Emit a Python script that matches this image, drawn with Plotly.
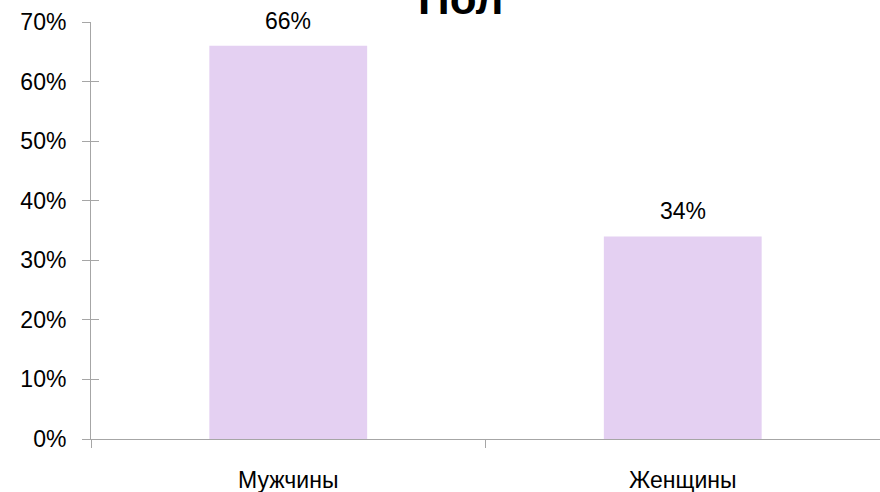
import plotly.graph_objects as go

categories = ["Мужчины", "Женщины"]
values = [0.66, 0.34]
value_labels = ["66%", "34%"]
title_text = "Пол"

FONT = "Liberation Sans, Arial, sans-serif"
AXIS_COLOR = "#a6a6a6"

fig = go.Figure()
fig.add_trace(go.Bar(
    x=categories, y=values,
    marker=dict(color="#E4D0F2", line=dict(width=0)),
    width=0.4,
    hoverinfo="skip",
))

for c, v, t in zip(categories, values, value_labels):
    fig.add_annotation(x=c, y=v, text=t, showarrow=False, yanchor="bottom",
                       yshift=10, font=dict(family=FONT, size=23, color="#000"))

fig.add_annotation(x=0.468, xref="paper", y=1.0, yref="paper", yanchor="bottom",
                   yshift=-3, text="<b>" + title_text + "</b>", showarrow=False,
                   font=dict(family=FONT, size=44, color="#000"))

fig.update_layout(
    width=880, height=492,
    margin=dict(l=91, r=0, t=22, b=53, autoexpand=False),
    paper_bgcolor="white", plot_bgcolor="white",
    showlegend=False,
    bargap=0.6,
    xaxis=dict(
        type="category", tickson="boundaries", automargin=False,
        showline=True, linecolor=AXIS_COLOR, linewidth=1,
        ticks="outside", ticklen=8, tickcolor=AXIS_COLOR,
        showgrid=False, zeroline=False,
        tickfont=dict(family=FONT, size=23, color="#000"),
        ticklabelstandoff=20,
    ),
    yaxis=dict(
        range=[0, 0.7], dtick=0.1, tickformat=".0%", automargin=False,
        showline=True, linecolor=AXIS_COLOR, linewidth=1,
        ticks="outside", ticklen=8, tickcolor=AXIS_COLOR,
        showgrid=False, zeroline=False,
        tickfont=dict(family=FONT, size=23, color="#000"),
        ticklabelstandoff=11,
    ),
    yaxis2=dict(
        range=[0, 0.7], dtick=0.1, overlaying="y", side="left", automargin=False,
        ticks="inside", ticklen=8, tickcolor=AXIS_COLOR,
        showticklabels=False, showgrid=False, zeroline=False, showline=False,
    ),
)
# invisible helper trace so yaxis2 renders its crossing ticks
fig.add_trace(go.Scatter(x=categories, y=values, yaxis="y2", mode="none",
                         hoverinfo="skip", showlegend=False))

# remove the page's default body margin so the figure fills the window exactly
fig.write_html(
    "out.html",
    config={"displayModeBar": False, "staticPlot": True},
    post_script="document.body.style.margin='0';document.body.style.overflow='hidden';",
)
